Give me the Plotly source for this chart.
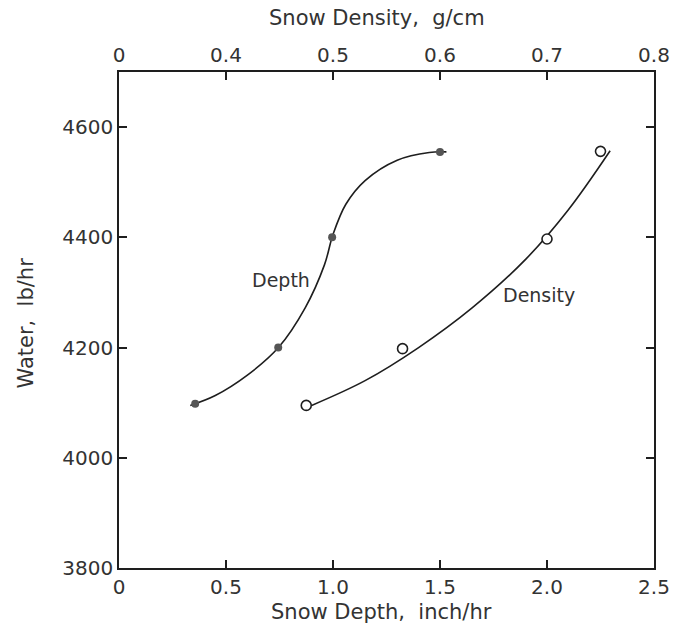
import plotly.graph_objects as go

# Measured points
depth_pts_x = [0.356, 0.744, 0.996, 1.50]          # Snow depth, inch/hr
depth_pts_w = [4098, 4200, 4400, 4555]             # Water, lb/hr
density_pts_x = [0.475, 0.565, 0.700, 0.750]       # Snow density, g/cm
density_pts_w = [4095, 4198, 4397, 4556]

depth_curve_x = [0.333, 0.45, 0.60, 0.745, 0.87, 0.96, 1.00, 1.06, 1.15, 1.30, 1.45, 1.53]
depth_curve_w = [4095, 4113, 4150, 4200, 4272, 4350, 4405, 4460, 4503, 4540, 4554, 4555]
density_curve_x = [0.480, 0.53, 0.58, 0.63, 0.68, 0.72, 0.759]
density_curve_w = [4095, 4140, 4200, 4272, 4360, 4450, 4557]

bottom_ticks = [0, 0.5, 1.0, 1.5, 2.0, 2.5]
bottom_labels = ["0", "0.5", "1.0", "1.5", "2.0", "2.5"]
top_ticks = [0.3, 0.4, 0.5, 0.6, 0.7, 0.8]
top_labels = ["0", "0.4", "0.5", "0.6", "0.7", "0.8"]
y_ticks = [3800, 4000, 4200, 4400, 4600]
y_labels = ["3800", "4000", "4200", "4400", "4600"]

INK = "#1e1e1e"
TXT = "#333333"
FONT = "DejaVu Sans"

fig = go.Figure()
fig.add_trace(go.Scatter(x=depth_curve_x, y=depth_curve_w, mode="lines",
                         line=dict(color=INK, width=1.6, shape="spline", smoothing=1.0),
                         xaxis="x", yaxis="y", showlegend=False, hoverinfo="skip"))
fig.add_trace(go.Scatter(x=depth_pts_x, y=depth_pts_w, mode="markers",
                         marker=dict(color="#555555", size=8, symbol="circle"),
                         xaxis="x", yaxis="y", showlegend=False))
fig.add_trace(go.Scatter(x=density_curve_x, y=density_curve_w, mode="lines",
                         line=dict(color=INK, width=1.6, shape="spline", smoothing=1.0),
                         xaxis="x2", yaxis="y", showlegend=False, hoverinfo="skip"))
fig.add_trace(go.Scatter(x=density_pts_x, y=density_pts_w, mode="markers",
                         marker=dict(color="white", size=10, symbol="circle",
                                     line=dict(color=INK, width=1.6)),
                         xaxis="x2", yaxis="y", showlegend=False))

L, R, T, B = 118.5, 17, 72, 62
W, H = 682, 630
pw, ph = W - L - R, H - T - B

def px(xp):
    return (xp - L) / pw

def py(yp):
    return (H - B - yp) / ph

tickfont = dict(family=FONT, size=20, color=TXT)

fig.update_layout(
    width=W, height=H,
    margin=dict(l=L, r=R, t=T, b=B, pad=0),
    paper_bgcolor="white", plot_bgcolor="white",
    font=dict(family=FONT, color=INK),
    xaxis=dict(range=[0, 2.5], tickvals=bottom_ticks, ticktext=bottom_labels,
               ticks="inside", ticklen=8, tickwidth=1.5, tickcolor=INK,
               showline=True, linecolor=INK, linewidth=1.6, showgrid=False,
               zeroline=False, tickfont=tickfont, ticklabelstandoff=0),
    xaxis2=dict(range=[0.3, 0.8], overlaying="x", side="top",
                tickvals=top_ticks, ticktext=top_labels,
                ticks="inside", ticklen=8, tickwidth=1.5, tickcolor=INK,
                showline=True, linecolor=INK, linewidth=1.6, showgrid=False,
                zeroline=False, tickfont=tickfont, ticklabelstandoff=0),
    yaxis=dict(range=[3800, 4700], tickvals=y_ticks, ticktext=y_labels,
               ticks="inside", ticklen=8, tickwidth=1.5, tickcolor=INK,
               showline=True, linecolor=INK, linewidth=1.6, mirror="ticks",
               showgrid=False, zeroline=False, tickfont=tickfont,
               ticklabelstandoff=0),
    annotations=[
        dict(text="Snow Density,  g/cm", xref="paper", yref="paper",
             x=px(382), y=py(18), showarrow=False,
             font=dict(family=FONT, size=21, color=TXT),
             xanchor="center", yanchor="middle"),
        dict(text="Snow Depth,  inch/hr", xref="paper", yref="paper",
             x=px(387), y=py(612), showarrow=False,
             font=dict(family=FONT, size=21, color=TXT),
             xanchor="center", yanchor="middle"),
        dict(text="Water,  lb/hr", xref="paper", yref="paper",
             x=px(24), y=py(323), showarrow=False, textangle=-90,
             font=dict(family=FONT, size=21, color=TXT),
             xanchor="center", yanchor="middle"),
        dict(text="Depth", xref="x", yref="y", x=0.755, y=4322,
             showarrow=False, font=dict(family=FONT, size=19, color=TXT),
             xanchor="center", yanchor="middle"),
        dict(text="Density", xref="x", yref="y", x=1.961, y=4295,
             showarrow=False, font=dict(family=FONT, size=19, color=TXT),
             xanchor="center", yanchor="middle"),
    ],
)

fig.write_html("out.html")
